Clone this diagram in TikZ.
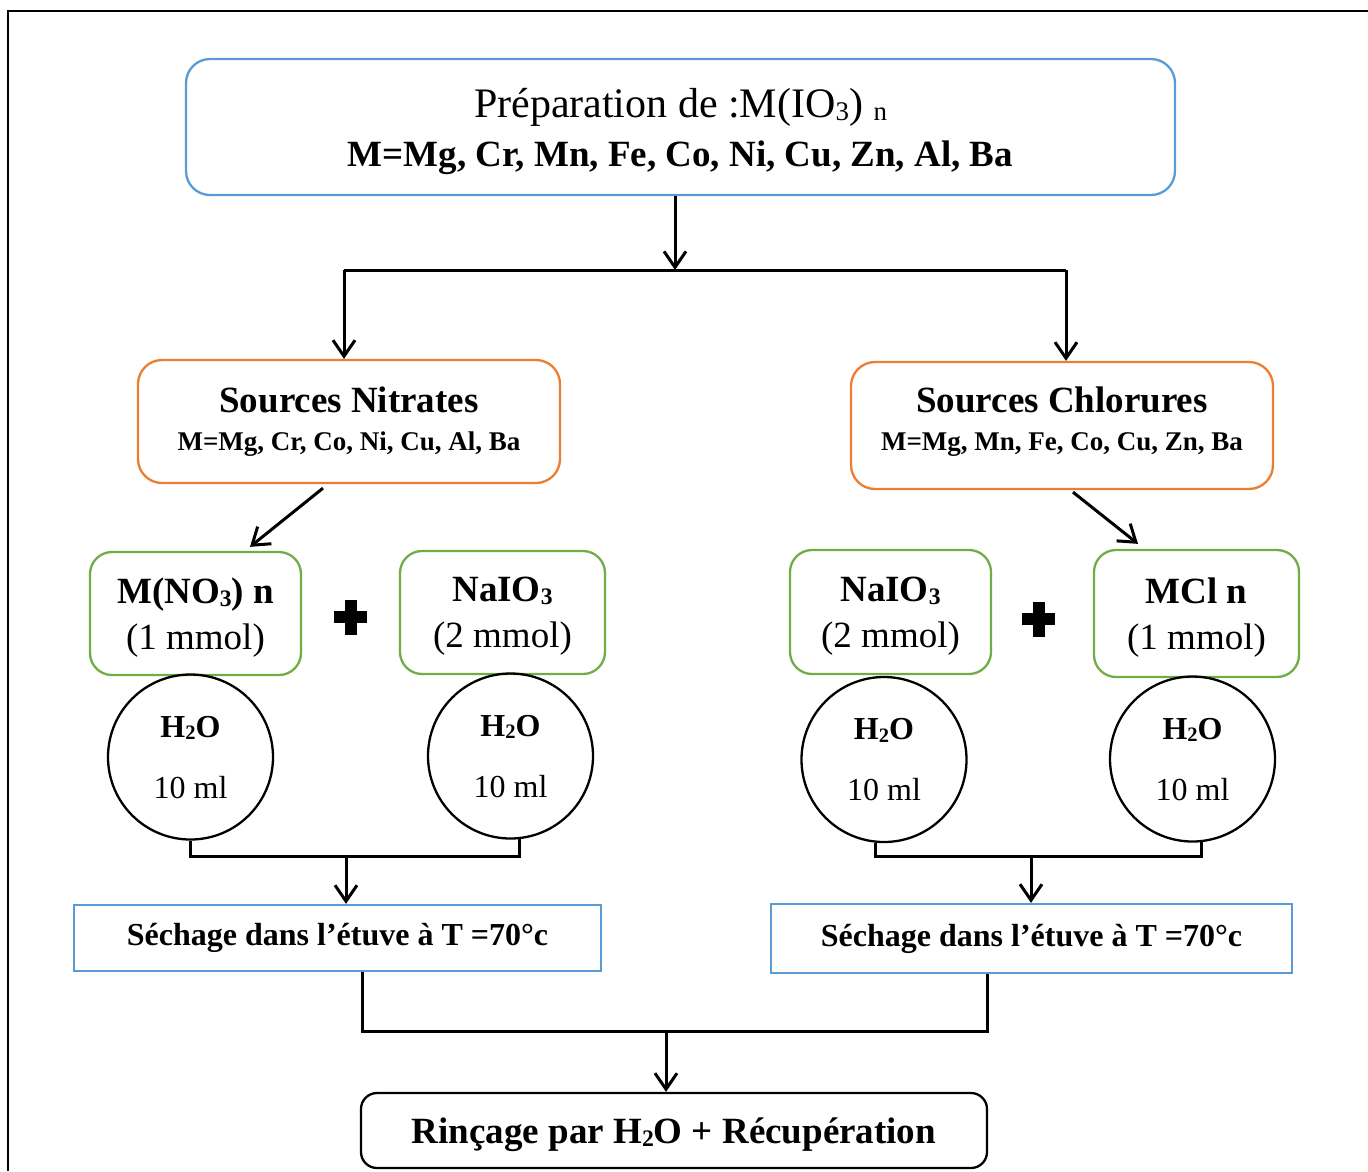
\documentclass[tikz,border=0pt]{standalone}
\usepackage{fontspec}
\setmainfont{Liberation Serif}
\usetikzlibrary{arrows.meta,calc}
\definecolor{boxblue}{RGB}{91,155,213}
\definecolor{boxorange}{RGB}{237,125,49}
\definecolor{boxgreen}{RGB}{112,173,71}
% small, slightly lowered index as in word-processor chemistry
\newcommand\chemsub[1]{\raisebox{-0.08em}{\scalebox{0.64}{#1}}}
\begin{document}
\begin{tikzpicture}[x=1pt,y=-1pt,
  line/.style={line width=3pt},
  arr/.style={line width=3pt,-{Straight Barb[length=16pt,width=22pt]}},
  box/.style={draw,line width=2.3pt,align=center,inner sep=0pt,anchor=center},
  headbox/.style={box,draw=boxblue,rounded corners=24pt,minimum width=989pt,minimum height=136pt,text depth=0pt,font=\fontsize{37}{49}\selectfont},
  srcbox/.style={box,draw=boxorange,rounded corners=24pt,minimum width=422pt,font=\fontsize{37}{38}\selectfont},
  reagbox/.style={box,draw=boxgreen,rounded corners=22pt,text depth=0pt,font=\fontsize{37}{46}\selectfont},
  waterbox/.style={box,circle,draw=black,minimum size=165pt,text depth=-11pt,font=\fontsize{32}{61}\selectfont},
  drybox/.style={box,draw=boxblue,font=\bfseries\fontsize{32}{32}\selectfont},
  endbox/.style={box,draw=black,rounded corners=16pt,text depth=0pt,font=\bfseries\fontsize{37}{37}\selectfont},
  frame/.style={line width=2.2pt}
]
\useasboundingbox (0,0) rectangle (1368,1171);
% outer frame
\draw[frame] (8,1171) -- (8,11) -- (1368,11);

% title
\node[headbox] (head) at (680.5,127)
  {{\fontsize{42}{42}\selectfont Préparation de :M(IO\chemsub{3}) \chemsub{n}}\\
   {\bfseries M=Mg, Cr, Mn, Fe, Co, Ni, Cu, Zn, Al, Ba}};

% metal sources
\node[srcbox,minimum height=123pt] (nitr) at (349,421.5)
  {{\bfseries Sources Nitrates}\\
   {\bfseries\fontsize{27}{27}\selectfont M=Mg, Cr, Co, Ni, Cu, Al, Ba}};
\node[srcbox,minimum height=127pt,text depth=14pt] (chl) at (1062,425.5)
  {{\bfseries Sources Chlorures}\\
   {\bfseries\fontsize{27}{27}\selectfont M=Mg, Mn, Fe, Co, Cu, Zn, Ba}};

% reagents
\node[reagbox,minimum width=211pt,minimum height=123pt] (mno) at (195.5,613.5)
  {{\bfseries M(NO\chemsub{3}) n}\\(1 mmol)};
\node[reagbox,minimum width=205pt,minimum height=123pt] (naL) at (502.5,612.5)
  {{\bfseries NaIO\chemsub{3}}\\(2 mmol)};
\node[reagbox,minimum width=201pt,minimum height=124pt] (naR) at (890.5,612)
  {{\bfseries NaIO\chemsub{3}}\\(2 mmol)};
\node[reagbox,minimum width=205pt,minimum height=127pt] (mcl) at (1196.5,613.5)
  {{\bfseries MCl n}\\(1 mmol)};

% plus signs
\coordinate (plusL) at (350.5,617);
\coordinate (plusR) at (1038.5,619);
\foreach \p in {plusL,plusR}{
  \fill (\p) ++(-16.5,-6) rectangle ++(33,12);
  \fill (\p) ++(-6,-17.5) rectangle ++(12,35);
}

% water
\node[waterbox] (w1) at (190.5,757) {{\bfseries H\chemsub{2}O}\\10 ml};
\node[waterbox] (w2) at (510.5,756) {{\bfseries H\chemsub{2}O}\\10 ml};
\node[waterbox] (w3) at (884,759.5) {{\bfseries H\chemsub{2}O}\\10 ml};
\node[waterbox] (w4) at (1192.5,759) {{\bfseries H\chemsub{2}O}\\10 ml};

% drying
\node[drybox,minimum width=527pt,minimum height=66pt] (dryL) at (337.5,938)
  {Séchage dans l’étuve à T =70°c};
\node[drybox,minimum width=521pt,minimum height=69pt] (dryR) at (1031.5,938.5)
  {Séchage dans l’étuve à T =70°c};

% rinsing
\node[endbox,minimum width=626pt,minimum height=75pt] (rinse) at (674,1130.5)
  {Rinçage par H\chemsub{2}O + Récupération};

% connectors
\coordinate (split) at (675,270);
\coordinate (splitL) at (344,270);
\coordinate (splitR) at (1066,270);
\draw[arr] (head.south -| split) -- (split);
\draw[line] (splitL) -- (splitR);
\draw[arr] (splitL) -- (splitL |- nitr.north);
\draw[arr] (splitR) -- (splitR |- chl.north);

\draw[arr] ($(nitr.south)+(-26,4)$) -- ($(mno.north)+(54.5,-4)$);
\draw[arr] ($(chl.south)+(11,2)$) -- ($(mcl.north)+(-58.5,-5)$);

\coordinate (joinL) at (346,856);
\coordinate (joinR) at (1031,856);
\draw[line] (w1.south) |- (joinL) -| (w2.-84);
\draw[line] (w3.-96) |- (joinR) -| (w4.-84);
\draw[arr] (joinL) -- (joinL |- dryL.north);
\draw[arr] (joinR) -- (joinR |- dryR.north);

\coordinate (bl) at (362,1031);
\coordinate (br) at (987,1031);
\coordinate (joinB) at (666,1031);
\draw[line] (bl |- dryL.south) -- (bl) -- (br) -- (br |- dryR.south);
\draw[arr] (joinB) -- (joinB |- rinse.north);
\end{tikzpicture}
\end{document}
